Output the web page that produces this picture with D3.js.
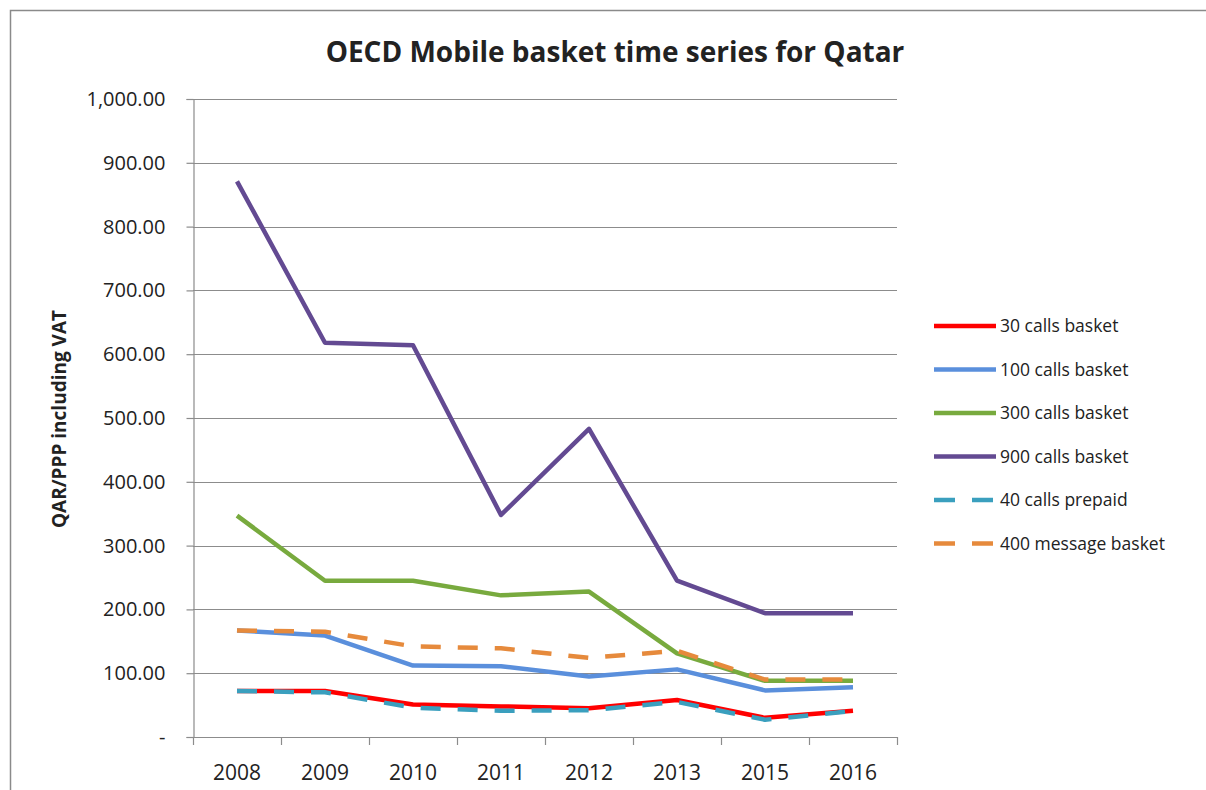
<!DOCTYPE html>
<html>
<head>
<meta charset="utf-8">
<script src="https://cdn.jsdelivr.net/npm/d3@7"></script>
<style>
  body { margin: 0; background: #fff; }
  svg { display: block; }
  text { font-family: "Open Sans", "Noto Sans", sans-serif; fill: #222; }
</style>
</head>
<body>
<div id="chart"></div>
<script>
// data
var years = ["2008", "2009", "2010", "2011", "2012", "2013", "2015", "2016"];
var calls30 = [72, 72, 51, 48, 45, 58, 30, 41];
var calls100 = [167, 159, 112, 111, 95, 106, 73, 78];
var calls300 = [347, 245, 245, 222, 228, 131, 88, 88];
var calls900 = [871, 618, 614, 348, 483, 245, 194, 194];
var prepaid40 = [72, 70, 46, 41, 42, 55, 27, 41];
var message400 = [167, 165, 142, 139, 124, 135, 90, 90];
var yTicks = [0, 100, 200, 300, 400, 500, 600, 700, 800, 900, 1000];

var series = [
  { name: "30 calls basket", values: calls30, color: "#ff0000", dash: null },
  { name: "100 calls basket", values: calls100, color: "#5a8fdc", dash: null },
  { name: "300 calls basket", values: calls300, color: "#78aa3e", dash: null },
  { name: "900 calls basket", values: calls900, color: "#634a92", dash: null },
  { name: "40 calls prepaid", values: prepaid40, color: "#3a9fbe", dash: "20,17" },
  { name: "400 message basket", values: message400, color: "#e68a3c", dash: "20,17" }
];

var width = 1206, height = 790;
var plotLeft = 193, plotRight = 897, plotTop = 99, plotBottom = 737;

var svg = d3.select("#chart").append("svg")
    .attr("width", width)
    .attr("height", height);

// outer chart border
svg.append("rect")
    .attr("x", 10.5).attr("y", 10.5)
    .attr("width", 1220).attr("height", 800)
    .attr("fill", "none")
    .attr("stroke", "#8a8a8a")
    .attr("stroke-width", 1.5);

var x = d3.scaleBand().domain(years).range([plotLeft, plotRight]).padding(0);
var y = d3.scaleLinear().domain([0, 1000]).range([plotBottom, plotTop]);

// gridlines
svg.append("g").selectAll("line")
    .data(yTicks.filter(function(d) { return d > 0; }))
    .enter().append("line")
    .attr("x1", plotLeft).attr("x2", plotRight)
    .attr("y1", function(d) { return Math.round(y(d)) + 0.5; })
    .attr("y2", function(d) { return Math.round(y(d)) + 0.5; })
    .attr("stroke", "#8c8c8c")
    .attr("stroke-width", 1.2);

// y axis
var yAxis = d3.axisLeft(y)
    .tickValues(yTicks)
    .tickSize(7)
    .tickPadding(21)
    .tickFormat(function(d) { return d === 0 ? "-" : d3.format(",.2f")(d); });

var gy = svg.append("g")
    .attr("transform", "translate(" + (plotLeft + 0.5) + ",0)")
    .call(yAxis);
gy.select(".domain").attr("stroke", "#8c8c8c").attr("stroke-width", 1.2);
gy.selectAll(".tick line").attr("stroke", "#8c8c8c").attr("stroke-width", 1.2);
gy.selectAll(".tick text")
    .style("font-family", "'Open Sans', sans-serif")
    .style("font-size", "20px")
    .attr("fill", "#222");

// x axis: ticks between categories
var gx = svg.append("g");
gx.append("line")
    .attr("x1", plotLeft).attr("x2", plotRight)
    .attr("y1", plotBottom + 0.5).attr("y2", plotBottom + 0.5)
    .attr("stroke", "#8c8c8c").attr("stroke-width", 1.2);
gx.selectAll(".xtick")
    .data(years.concat(["end"]))
    .enter().append("line")
    .attr("x1", function(d, i) { return Math.round(plotLeft + i * x.bandwidth()) + 0.5; })
    .attr("x2", function(d, i) { return Math.round(plotLeft + i * x.bandwidth()) + 0.5; })
    .attr("y1", plotBottom).attr("y2", plotBottom + 8)
    .attr("stroke", "#8c8c8c").attr("stroke-width", 1.2);
gx.selectAll(".xlabel")
    .data(years)
    .enter().append("text")
    .attr("x", function(d) { return x(d) + x.bandwidth() / 2; })
    .attr("y", plotBottom + 43)
    .attr("text-anchor", "middle")
    .style("font-size", "21px")
    .text(function(d) { return d; });

// lines
var line = d3.line()
    .x(function(d, i) { return x(years[i]) + x.bandwidth() / 2; })
    .y(function(d) { return y(d); });

svg.append("g").selectAll("path")
    .data(series)
    .enter().append("path")
    .attr("d", function(s) { return line(s.values); })
    .attr("fill", "none")
    .attr("stroke", function(s) { return s.color; })
    .attr("stroke-width", 4.5)
    .attr("stroke-linejoin", "round")
    .attr("stroke-dasharray", function(s) { return s.dash; });

// legend
var legend = svg.append("g").selectAll("g")
    .data(series)
    .enter().append("g")
    .attr("transform", function(d, i) { return "translate(934," + (326 + i * 43.5) + ")"; });

legend.append("line")
    .attr("x1", 0).attr("x2", 62)
    .attr("y1", 0).attr("y2", 0)
    .attr("stroke", function(s) { return s.color; })
    .attr("stroke-width", 4.5)
    .attr("stroke-dasharray", function(s) { return s.dash ? "21,17" : null; });

legend.append("text")
    .attr("x", 66)
    .attr("y", 6)
    .style("font-size", "17.5px")
    .text(function(s) { return s.name; });

// title
svg.append("text")
    .attr("x", 615)
    .attr("y", 62)
    .attr("text-anchor", "middle")
    .style("font-size", "28px")
    .style("font-weight", "bold")
    .attr("fill", "#111")
    .text("OECD Mobile basket time series for Qatar");

// y axis title
svg.append("text")
    .attr("transform", "translate(66," + 419 + ") rotate(-90)")
    .attr("text-anchor", "middle")
    .style("font-size", "19px")
    .style("font-weight", "bold")
    .attr("fill", "#111")
    .text("QAR/PPP including VAT");
</script>
</body>
</html>
